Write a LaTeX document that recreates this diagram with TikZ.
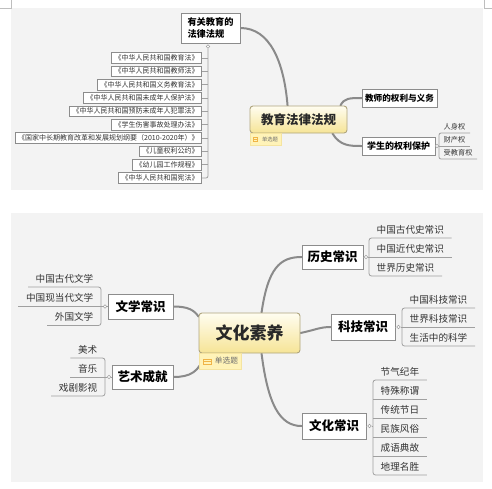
\documentclass[tikz,border=0pt]{standalone}
\usepackage{fontspec}
\setmainfont{Noto Sans CJK SC}
\usetikzlibrary{backgrounds}
\definecolor{panelbg}{RGB}{243,243,243}
\definecolor{boxgray}{RGB}{140,140,140}
\definecolor{linegray}{RGB}{160,160,160}
\definecolor{conngray}{RGB}{138,138,138}
\definecolor{itemtext}{RGB}{51,51,51}
\definecolor{centborder}{RGB}{175,165,125}
\definecolor{centtop}{RGB}{255,253,240}
\definecolor{centbot}{RGB}{246,228,150}
\definecolor{tagfill}{RGB}{255,243,184}
\definecolor{tagborder}{RGB}{245,228,160}
\definecolor{tagicon}{RGB}{240,180,70}
\definecolor{tagtext}{RGB}{110,110,110}
\definecolor{cropgray}{RGB}{190,190,190}
\begin{document}
\begin{tikzpicture}[x=1pt,y=-1pt,
  panel/.style={fill=panelbg,draw=none},
  topic/.style={draw=boxgray,line width=0.9pt,fill=white,inner sep=0pt,text=black},
  central/.style={draw=centborder,line width=0.9pt,rounded corners=3pt,top color=centtop,bottom color=centbot,inner sep=0pt,text={rgb,255:red,40;green,40;blue,40}},
  lawitem/.style={draw=boxgray,line width=0.6pt,fill=white,inner xsep=3pt,inner ysep=0pt,minimum height=10.6pt,font=\fontsize{7}{7.5}\selectfont,text=itemtext},
  item/.style={inner xsep=7.5pt,inner ysep=0pt,minimum height=16pt,font=\fontsize{9.6}{10}\selectfont,text=itemtext},
  smallitem/.style={inner xsep=4.5pt,inner ysep=0pt,minimum height=12pt,font=\fontsize{7.2}{8}\selectfont,text=itemtext},
  uline/.style={draw=linegray,line width=0.8pt},
  conn/.style={draw=conngray,line width=2pt,line cap=round},
  knob/.style={circle,draw=linegray,fill=white,line width=0.6pt,inner sep=0pt,minimum size=3.6pt},
  tagbox/.style={fill=tagfill,draw=tagborder,line width=0.5pt,inner sep=0pt},
  tagsym/.style={draw=tagicon,line width=0.6pt,inner sep=0pt,path picture={\draw[tagicon,line width=0.6pt] (path picture bounding box.west) -- (path picture bounding box.east);}},
  tagtxt/.style={text=tagtext,inner sep=0pt},
  cropline/.style={draw=cropgray,line width=0.6pt}
]
\useasboundingbox (0,0) rectangle (492,488);

% ---------- top panel ----------
\node[topic,minimum width=59pt,minimum height=30pt,align=left,font=\bfseries\fontsize{9.2}{11.5}\selectfont] (law) at (210.5,28) {有关教育的\\法律法规};
\node[central,minimum width=97pt,minimum height=27pt,font=\bfseries\fontsize{12.5}{14}\selectfont] (edu) at (298.5,119.5) {教育法律法规};
\node[topic,minimum width=75pt,minimum height=18pt,font=\bfseries\fontsize{8.6}{10}\selectfont] (teacher) at (399.5,98) {教师的权利与义务};
\node[topic,minimum width=73pt,minimum height=18pt,font=\bfseries\fontsize{9}{10}\selectfont] (student) at (398.5,146) {学生的权利保护};

\node[tagbox,minimum width=31pt,minimum height=12pt] (edutag) at (265.5,139) {};
\node[tagsym,minimum width=4.5pt,minimum height=4pt] (eduicon) at (255.5,139) {};
\node[tagtxt,font=\fontsize{5.3}{6}\selectfont] (edutagtxt) at (270,139) {单选题};

\node[lawitem,anchor=east] (l1) at (202,58) {《中华人民共和国教育法》};
\node[lawitem,anchor=east] (l2) at (202,71.3) {《中华人民共和国教师法》};
\node[lawitem,anchor=east] (l3) at (202,84.7) {《中华人民共和国义务教育法》};
\node[lawitem,anchor=east] (l4) at (202,98) {《中华人民共和国未成年人保护法》};
\node[lawitem,anchor=east] (l5) at (202,111.3) {《中华人民共和国预防未成年人犯罪法》};
\node[lawitem,anchor=east] (l6) at (202,124.7) {《学生伤害事故处理办法》};
\node[lawitem,anchor=east] (l7) at (202,138) {《国家中长期教育改革和发展规划纲要（2010-2020年）》};
\node[lawitem,anchor=east] (l8) at (202,151.3) {《儿童权利公约》};
\node[lawitem,anchor=east] (l9) at (202,164.7) {《幼儿园工作规程》};
\node[lawitem,anchor=east] (l10) at (202,178) {《中华人民共和国宪法》};
\node[knob] (lawknob) at (208,46.5) {};

\node[knob] (stuknob) at (437,146) {};
\node[smallitem,anchor=south west] (s1) at (439,133) {人身权};
\node[smallitem,anchor=south west] (s2) at (439,146) {财产权};
\node[smallitem,anchor=south west] (s3) at (439,159) {受教育权};

% ---------- bottom panel ----------
\node[central,minimum width=101pt,minimum height=40pt,font=\bfseries\fontsize{17}{19}\selectfont] (culture) at (249.5,333) {文化素养};
\node[topic,minimum width=65pt,minimum height=25pt,font=\bfseries\fontsize{12.5}{14}\selectfont] (wenxue) at (140.5,306.5) {文学常识};
\node[topic,minimum width=61pt,minimum height=24pt,font=\bfseries\fontsize{12.5}{14}\selectfont] (yishu) at (142.5,377) {艺术成就};
\node[topic,minimum width=61pt,minimum height=24pt,font=\bfseries\fontsize{12.5}{14}\selectfont] (lishi) at (332.5,257) {历史常识};
\node[topic,minimum width=64pt,minimum height=26pt,font=\bfseries\fontsize{12.5}{14}\selectfont] (keji) at (363,327) {科技常识};
\node[topic,minimum width=64pt,minimum height=26pt,font=\bfseries\fontsize{12.5}{14}\selectfont] (wenhua) at (334,426) {文化常识};

\node[tagbox,minimum width=42pt,minimum height=16pt] (cultag) at (220,361) {};
\node[tagsym,minimum width=8pt,minimum height=5pt] (culicon) at (207,361.5) {};
\node[tagtxt,font=\fontsize{7.7}{9}\selectfont] (cultagtxt) at (226.5,361) {单选题};

% literature
\node[knob] (wxknob) at (105,306.5) {};
\node[item,anchor=south east] (wx1) at (101,287) {中国古代文学};
\node[item,anchor=south east] (wx2) at (101,306.5) {中国现当代文学};
\node[item,anchor=south east] (wx3) at (101,325.5) {外国文学};
% art
\node[knob] (ysknob) at (109,377) {};
\node[item,anchor=south east] (ys1) at (105,358) {美术};
\node[item,anchor=south east] (ys2) at (105,377) {音乐};
\node[item,anchor=south east] (ys3) at (105,396) {戏剧影视};
% history
\node[knob] (lsknob) at (366,257) {};
\node[item,anchor=south west] (ls1) at (369,238) {中国古代史常识};
\node[item,anchor=south west] (ls2) at (369,257) {中国近代史常识};
\node[item,anchor=south west] (ls3) at (369,276) {世界历史常识};
% science
\node[knob] (kjknob) at (398.5,327) {};
\node[item,anchor=south west] (kj1) at (402,308) {中国科技常识};
\node[item,anchor=south west] (kj2) at (402,327) {世界科技常识};
\node[item,anchor=south west] (kj3) at (402,346) {生活中的科学};
% culture knowledge
\node[knob] (whknob) at (369.5,426) {};
\node[item,anchor=south west] (wh1) at (373,380) {节气纪年};
\node[item,anchor=south west] (wh2) at (373,399) {特殊称谓};
\node[item,anchor=south west] (wh3) at (373,418) {传统节日};
\node[item,anchor=south west] (wh4) at (373,437) {民族风俗};
\node[item,anchor=south west] (wh5) at (373,456) {成语典故};
\node[item,anchor=south west] (wh6) at (373,475) {地理名胜};

\begin{scope}[on background layer]
  \fill[panel] (11,8) rectangle (483,190);
  \fill[panel] (11,213) rectangle (483,482);
  \draw[cropline] (0,8) -- (11,8) -- (11,0);
  \draw[cropline] (484,0) -- (484,8) -- (492,8);

  % top connectors
  \draw[conn] (law.east) .. controls (270,28) and (284,62) .. ([xshift=38pt]edu.north west);
  \draw[conn] ([xshift=-7pt]edu.north east) .. controls (344,98) and (350,98) .. (teacher.west);
  \draw[conn] ([xshift=-15pt]edu.south east) .. controls (340,146) and (350,146) .. (student.west);

  % bottom connectors
  \draw[conn] (wenxue.east) .. controls (188,306.5) and (194,310) .. ([yshift=-4pt]culture.north west);
  \draw[conn] (yishu.east) .. controls (190,377) and (200,372) .. ([xshift=6pt]culture.south west);
  \draw[conn] ([xshift=63pt]culture.north west) .. controls (268,268) and (280,257) .. (lishi.west);
  \draw[conn] (culture.east) .. controls (315,330) and (320,327) .. (keji.west);
  \draw[conn] ([xshift=63pt]culture.south west) .. controls (268,405) and (280,426) .. (wenhua.west);
\end{scope}

% law list bracket
\draw[uline] (lawknob.north) -- (lawknob.north |- law.south);
\draw[uline,rounded corners=2pt] (lawknob.south) -- (lawknob |- l10.east) -- (l10.east);
\foreach \n in {l1,l2,l3,l4,l5,l6,l7,l8,l9} \draw[uline] (\n.east) -- (\n.east -| lawknob);

% student rights
\draw[uline] (student.east) -- (stuknob.west);
\draw[uline] (stuknob.east) -- (stuknob.east -| s2.south west);
\draw[uline,rounded corners=2pt] (s1.south east) -- (s1.south west) -- (s3.south west) -- (s3.south east);
\draw[uline] (s2.south west) -- (s2.south east);

% literature
\draw[uline] (wenxue.west) -- (wxknob.east);
\draw[uline] (wxknob.west) -- (wxknob.west -| wx2.south east);
\draw[uline,rounded corners=2.5pt] (wx1.south west) -- (wx1.south east) -- (wx3.south east) -- (wx3.south west);
\draw[uline] (wx2.south west) -- (wx2.south east);
% art
\draw[uline] (yishu.west) -- (ysknob.east);
\draw[uline] (ysknob.west) -- (ysknob.west -| ys2.south east);
\draw[uline,rounded corners=2.5pt] (ys1.south west) -- (ys1.south east) -- (ys3.south east) -- (ys3.south west);
\draw[uline] (ys2.south west) -- (ys2.south east);
% history
\draw[uline] (lishi.east) -- (lsknob.west);
\draw[uline] (lsknob.east) -- (lsknob.east -| ls2.south west);
\draw[uline,rounded corners=2.5pt] (ls1.south east) -- (ls1.south west) -- (ls3.south west) -- (ls3.south east);
\draw[uline] (ls2.south west) -- (ls2.south east);
% science
\draw[uline] (keji.east) -- (kjknob.west);
\draw[uline] (kjknob.east) -- (kjknob.east -| kj2.south west);
\draw[uline,rounded corners=2.5pt] (kj1.south east) -- (kj1.south west) -- (kj3.south west) -- (kj3.south east);
\draw[uline] (kj2.south west) -- (kj2.south east);
% culture knowledge
\draw[uline] (wenhua.east) -- (whknob.west);
\draw[uline] (whknob.east) -- (whknob.east -| wh1.south west);
\draw[uline,rounded corners=2.5pt] (wh1.south east) -- (wh1.south west) -- (wh6.south west) -- (wh6.south east);
\foreach \n in {wh2,wh3,wh4,wh5} \draw[uline] (\n.south west) -- (\n.south east);
\end{tikzpicture}
\end{document}
